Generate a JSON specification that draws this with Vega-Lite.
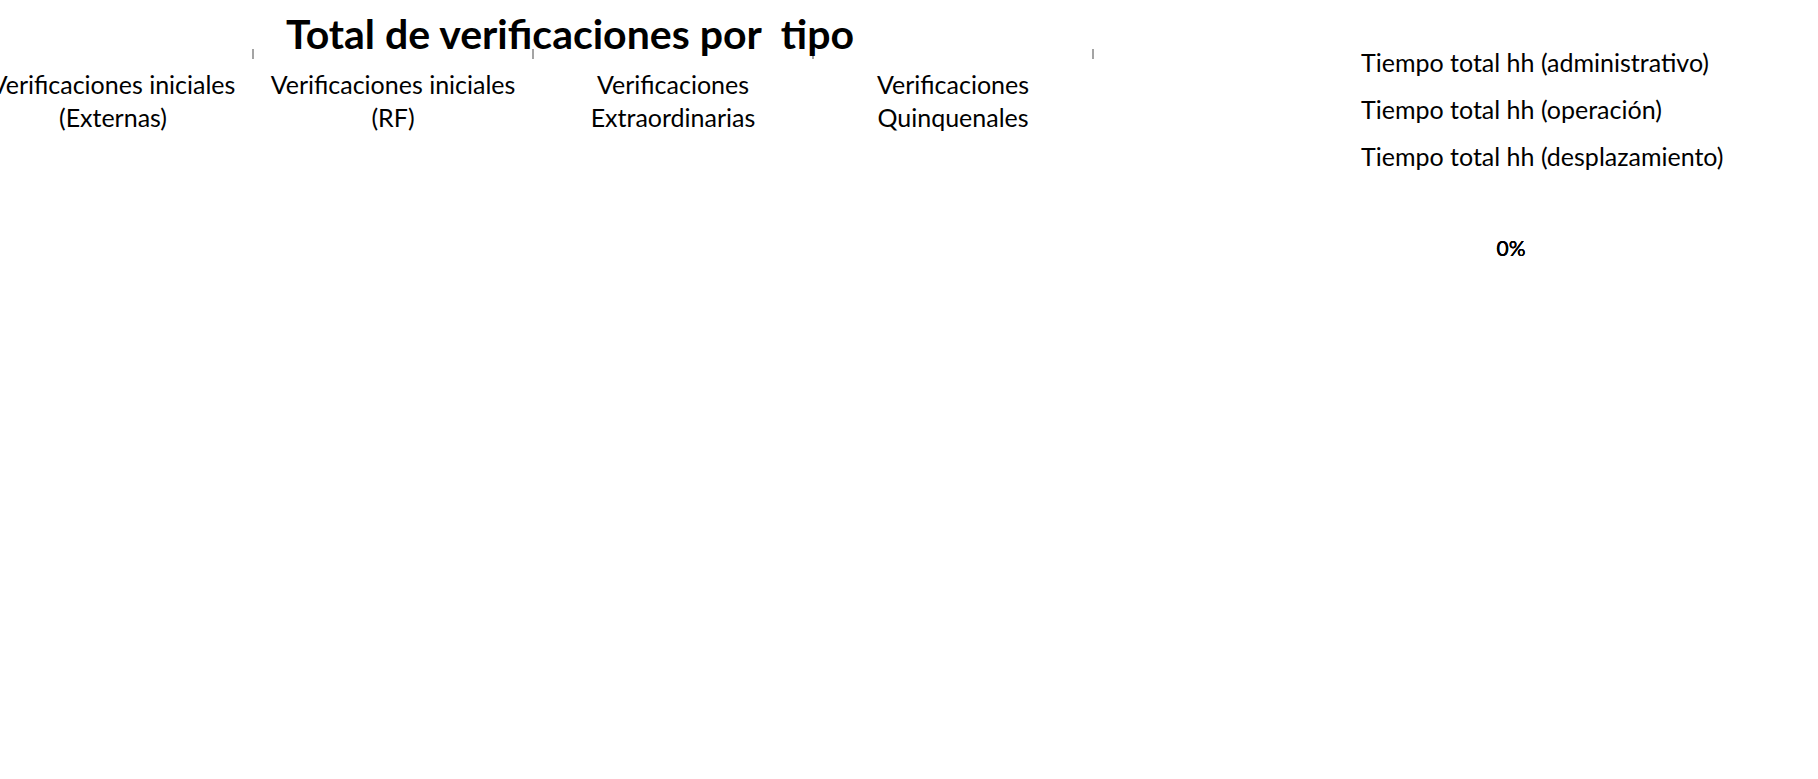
{
  "$schema": "https://vega.github.io/schema/vega-lite/v6.json",
  "background": "white",
  "padding": {"left": -27, "top": 49, "right": 0, "bottom": 0},
  "width": 1845,
  "height": 611,
  "config": {"view": {"stroke": null}, "font": "Lato"},
  "title": {
    "text": "Total de verificaciones por\u00a0 tipo",
    "font": "Lato",
    "fontSize": 41,
    "fontWeight": "bold",
    "color": "#000000",
    "anchor": "start",
    "frame": "group",
    "baseline": "alphabetic",
    "offset": 0,
    "dx": 313
  },
  "datasets": {
    "tipos": [
      {"tipo": "Verificaciones iniciales (Externas)", "total": 0},
      {"tipo": "Verificaciones iniciales (RF)", "total": 0},
      {"tipo": "Verificaciones Extraordinarias", "total": 0},
      {"tipo": "Verificaciones Quinquenales", "total": 0}
    ],
    "tiempos": [
      {"serie": "Tiempo total hh (administrativo)", "orden": 1, "horas": 0, "pct": 0},
      {"serie": "Tiempo total hh (operación)", "orden": 2, "horas": 0, "pct": 0},
      {"serie": "Tiempo total hh (desplazamiento)", "orden": 3, "horas": 0, "pct": 0}
    ]
  },
  "resolve": {"scale": {"x": "independent", "y": "independent", "color": "independent"}},
  "layer": [
    {
      "data": {"name": "tipos"},
      "encoding": {
        "x": {
          "field": "tipo",
          "type": "nominal",
          "sort": null,
          "scale": {"paddingInner": 0, "paddingOuter": 0, "range": [0, 1120]},
          "axis": {
            "title": null,
            "labelAngle": 0,
            "tickBand": "extent",
            "domainColor": "#868686",
            "domainWidth": 1.5,
            "tickColor": "#868686",
            "tickWidth": 1.5,
            "tickSize": 10,
            "labelFont": "Lato",
            "labelFontSize": 25,
            "labelColor": "#000000",
            "labelPadding": 15,
            "labelBaseline": "top",
            "labelLineHeight": 33,
            "labelLimit": 400,
            "labelOverlap": false,
            "grid": false,
            "labelExpr": "[slice(datum.value, 0, lastindexof(datum.value, ' ')), slice(datum.value, lastindexof(datum.value, ' ') + 1)]"
          }
        },
        "y": {
          "field": "total",
          "type": "quantitative",
          "scale": {"domain": [0, 1]},
          "axis": null
        }
      },
      "layer": [
        {"mark": {"type": "bar", "color": "#4F81BD"}, "encoding": {}},
        {
          "mark": {"type": "text", "baseline": "alphabetic", "dy": -17, "font": "Lato", "fontSize": 25, "color": "#000000"},
          "encoding": {"text": {"field": "total", "type": "quantitative"}}
        }
      ]
    },
    {
      "data": {"name": "tiempos"},
      "mark": {"type": "square", "size": 225, "opacity": 1, "filled": true},
      "encoding": {
        "x": {"field": "pct", "type": "quantitative", "scale": {"domain": [-1, 1], "range": [1272, 1472]}, "axis": null},
        "y": {"field": "orden", "type": "quantitative", "scale": {"domain": [1, 3], "range": [14.5, 108.5]}, "axis": null},
        "color": {
          "field": "serie",
          "type": "nominal",
          "sort": null,
          "scale": {"range": ["#4F81BD", "#C0504D", "#9BBB59"]},
          "legend": null
        }
      }
    },
    {
      "data": {"name": "tiempos"},
      "mark": {"type": "text", "align": "left", "baseline": "middle", "font": "Lato", "fontSize": 25, "color": "#000000"},
      "encoding": {
        "text": {"field": "serie", "type": "nominal"},
        "x": {"field": "pct", "type": "quantitative", "scale": {"domain": [-1, 1], "range": [1288, 1488]}, "axis": null},
        "y": {"field": "orden", "type": "quantitative", "scale": {"domain": [1, 3], "range": [14.5, 108.5]}, "axis": null}
      }
    },
    {
      "data": {"name": "tiempos"},
      "mark": {"type": "text", "font": "Lato", "fontSize": 21, "color": "#000000"},
      "encoding": {
        "text": {"field": "pct", "type": "quantitative", "format": ".0%"},
        "x": {"field": "pct", "type": "quantitative", "scale": {"domain": [-1, 1], "range": [1438, 1638]}, "axis": null},
        "y": {"field": "pct", "type": "quantitative", "scale": {"domain": [-1, 1], "range": [301, 101]}, "axis": null}
      }
    }
  ]
}
